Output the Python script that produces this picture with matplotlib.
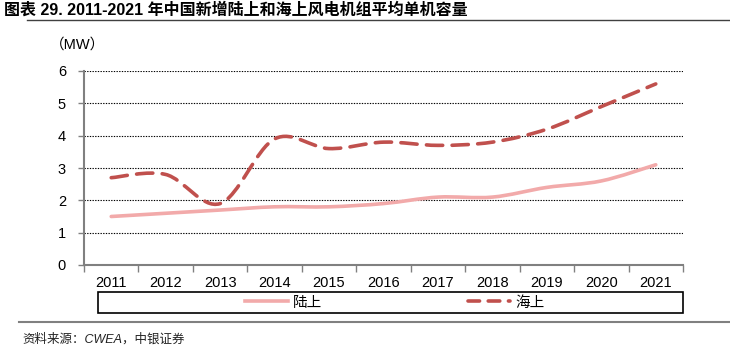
import numpy as np
import matplotlib
matplotlib.use("Agg")
import matplotlib.pyplot as plt
from matplotlib.path import Path
from matplotlib.patches import PathPatch, Rectangle
from matplotlib.lines import Line2D

plt.rcParams['font.family'] = ['Liberation Sans', 'Noto Sans CJK SC', 'DejaVu Sans']

years = ['2011', '2012', '2013', '2014', '2015', '2016', '2017', '2018', '2019', '2020', '2021']
onshore = [1.5, 1.6, 1.7, 1.8, 1.8, 1.9, 2.1, 2.1, 2.4, 2.6, 3.1]
offshore = [2.7, 2.8, 1.9, 3.9, 3.6, 3.8, 3.7, 3.8, 4.2, 4.9, 5.6]
labels = ['陆上', '海上']
ytick_vals = [0, 1, 2, 3, 4, 5, 6]

c_on = '#F2AAAA'
c_off = '#C0504D'


def smooth_path(xs, ys):
    # excel-style smoothed line: catmull-rom segments as cubic beziers
    p = np.column_stack([xs, ys]).astype(float)
    pts = [p[0]]
    codes = [Path.MOVETO]
    n = len(p)
    for i in range(n - 1):
        p0 = p[i - 1] if i > 0 else p[i]
        p3 = p[i + 2] if i + 2 < n else p[i + 1]
        c1 = p[i] + (p[i + 1] - p0) / 6.0
        c2 = p[i + 1] - (p3 - p[i]) / 6.0
        pts += [c1, c2, p[i + 1]]
        codes += [Path.CURVE4] * 3
    return Path(pts, codes)


fig = plt.figure(figsize=(7.30, 3.56), dpi=100)
ax = fig.add_axes([84 / 730, 1 - 265 / 356, (683 - 84) / 730, (265 - 71) / 356])

x = np.arange(len(years))
ax.add_patch(PathPatch(smooth_path(x, onshore), fill=False, edgecolor=c_on,
                       lw=2.6, capstyle='round', zorder=3))
ax.add_patch(PathPatch(smooth_path(x, offshore), fill=False, edgecolor=c_off,
                       lw=2.6, linestyle=(0, (4.5, 2.6)), capstyle='round', zorder=4))

ax.set_xlim(-0.5, len(years) - 0.5)
ax.set_ylim(0, 6)
ax.set_yticks(ytick_vals)
ax.set_xticks(x)
ax.set_xticklabels(years)
ax.set_xticks(np.arange(len(years) + 1) - 0.5, minor=True)
ax.tick_params(axis='x', which='major', length=0, labelsize=10.5, pad=8)
ax.tick_params(axis='x', which='minor', length=5, color='#808080', width=1)
ax.tick_params(axis='y', length=4, color='#808080', width=1, labelsize=10.5, pad=9)

ax.grid(axis='y', color='black', linestyle=(0, (1.2, 1.2)), linewidth=0.8)
ax.set_axisbelow(True)
for s in ['top', 'right']:
    ax.spines[s].set_visible(False)
for s in ['left', 'bottom']:
    ax.spines[s].set_color('#808080')
    ax.spines[s].set_linewidth(1.5)

fig.text(78 / 730, 1 - 45 / 356, '（MW）', fontsize=10.5, ha='center', va='center')

# title and rules
fig.text(4 / 730, 1 - 10 / 356, '图表 29. 2011-2021 年中国新增陆上和海上风电机组平均单机容量',
         fontsize=11.5, fontweight='bold', ha='left', va='center')
fig.add_artist(Line2D([27 / 730, 1], [1 - 20 / 356] * 2, color='#404040', lw=1))
fig.add_artist(Line2D([19 / 730, 1], [1 - 322 / 356] * 2, color='#808080', lw=1.5))
fig.text(22 / 730, 1 - 339 / 356, '资料来源：CWEA，中银证券', fontsize=9,
         style='italic', ha='left', va='center', color='#222222')

# legend
fig.add_artist(Rectangle((98 / 730, 1 - 313 / 356), (683 - 98) / 730, 21 / 356,
                         transform=fig.transFigure, fill=False, edgecolor='black', lw=1.2))
handles = [Line2D([], [], color=c_on, lw=2.6),
           Line2D([], [], color=c_off, lw=2.6, linestyle=(0, (3.2, 2.4)), dash_capstyle='round')]
fig.legend(handles, labels, loc='center', bbox_to_anchor=(395 / 730, 1 - 302.5 / 356),
           ncol=2, frameon=False, fontsize=10.5, handlelength=2.9, handletextpad=0.35,
           columnspacing=10)

fig.savefig('out.png', dpi=100)
